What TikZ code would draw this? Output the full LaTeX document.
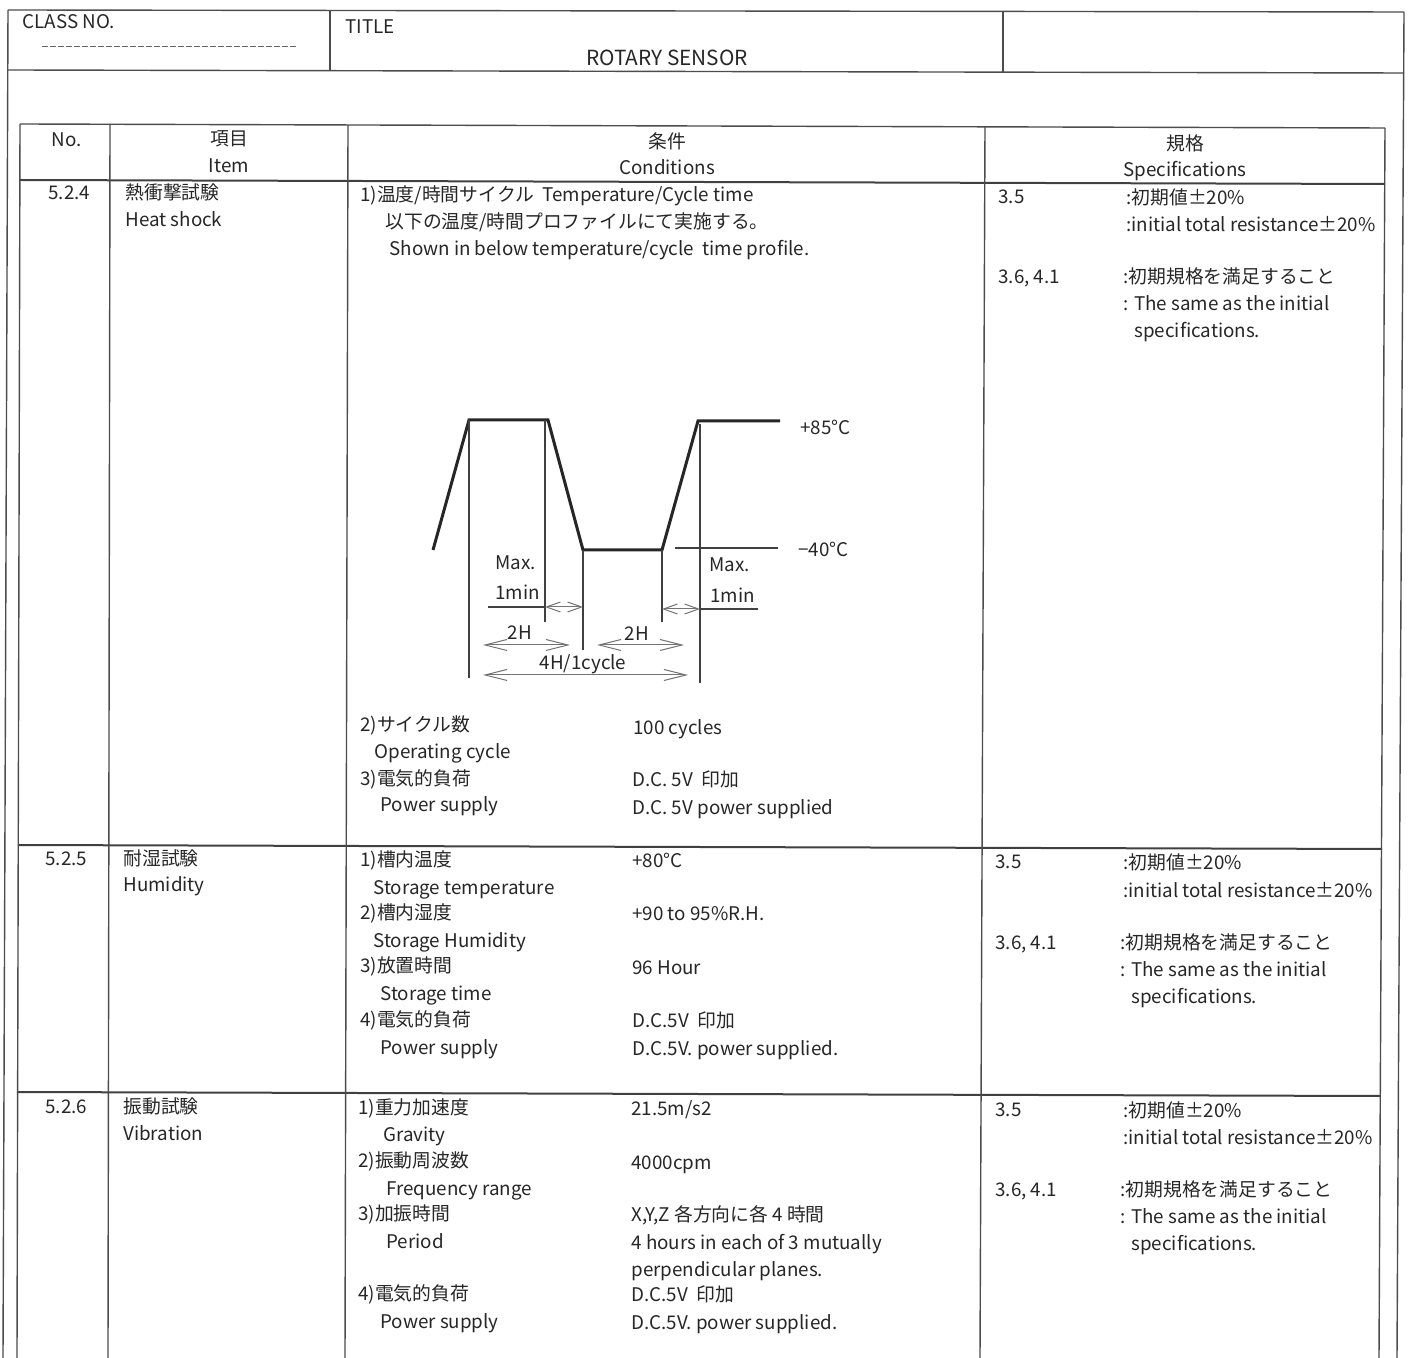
\documentclass[tikz,border=0pt]{standalone}
\usepackage{fontspec}
\setmainfont{Noto Sans CJK JP}
\usetikzlibrary{arrows.meta}

\tikzset{
  txt/.style={anchor=west, inner sep=0pt, text height=8.5pt, text depth=0.5pt, font=\fontsize{9.4}{11}\selectfont, text=black!85},
  mid/.style={txt, anchor=center},
  rule/.style={line width=0.7pt, draw=black!70},
  hrule/.style={line width=1pt, draw=black!75},
  profile/.style={line width=1.5pt, draw=black!85},
  guide/.style={line width=0.6pt, draw=black!75},
  dim/.style={line width=0.5pt, draw=black!55, {Straight Barb[length=11pt,width=5.5pt]}-{Straight Barb[length=11pt,width=5.5pt]}},
  shortdim/.style={dim, {Straight Barb[length=7pt,width=5pt]}-{Straight Barb[length=7pt,width=5pt]}}
}

\begin{document}
\begin{tikzpicture}[x=0.5pt,y=-0.5pt]
\useasboundingbox (0,0) rectangle (1410,1358);

% header frame
\draw[rule] (8,10) -- (1404,12);
\draw[rule] (8,70) -- (1404,73);
\draw[rule] (8,10) -- (3,1358);
\draw[rule] (1404,12) -- (1397,1358);
\draw[rule] (330,10) -- (330,71);
\draw[rule] (1003,11) -- (1003,72);
\draw[line width=0.4pt, draw=black!60, dash pattern=on 3pt off 1pt] (42,46) -- (296,46);
\node[txt] (classno) at (22,21) {CLASS NO.};
\node[txt] (title) at (345,26) {TITLE};
\node[mid, font=\fontsize{10.4}{12}\selectfont] (sensor) at (667,58) {ROTARY SENSOR};

% table grid
\draw[rule] (20,124) -- (1385,128);
\draw[hrule] (20,180) -- (1385,184);
\draw[hrule] (18,845) -- (1382,849);
\draw[hrule] (17,1092) -- (1380,1096);
\draw[rule] (20,124) -- (17,1358);
\draw[rule] (110,124) -- (108,1358);
\draw[rule] (348,125) -- (345,1358);
\draw[rule] (985,127) -- (980,1358);
\draw[rule] (1385,128) -- (1379,1358);

% column heads
\node[mid] (hno) at (67,139) {No.};
\node[mid] (hitemjp) at (229,138) {項目};
\node[mid] (hitem) at (229,165) {Item};
\node[mid] (hcondjp) at (667,141) {条件};
\node[mid] (hcond) at (667,167) {Conditions};
\node[mid] (hspecjp) at (1185,143) {規格};
\node[mid] (hspec) at (1185,169) {Specifications};

% 5.2.4 heat shock
\node[txt] (noa) at (48,192) {5.2.4};
\node[txt] (itemajp) at (125,192) {熱衝撃試験};
\node[txt] (itema) at (125,219) {Heat shock};
\node[txt] (conda) at (360,194) {1)温度/時間サイクル\ \ Temperature/Cycle time};
\node[txt] (condb) at (385,221) {以下の温度/時間プロファイルにて実施する。};
\node[txt] (condc) at (389,248) {Shown in below temperature/cycle\ \ time profile.};

% temperature profile
\draw[profile] (433,550) -- (469,420) -- (548,420) -- (583,550) -- (662,550) -- (698,421) -- (780,421);
\draw[guide] (675,548) -- (778,548);
\node[txt] (hot) at (800,427) {+85°C};
\node[txt] (cold) at (798,549) {−40°C};
\draw[guide] (469,420) -- (469,678);
\draw[guide] (545,420) -- (545,622);
\draw[guide] (583,550) -- (583,650);
\draw[guide] (662,550) -- (662,622);
\draw[guide] (700,424) -- (700,683);
\node[txt] (maxa) at (495,562) {Max.};
\node[txt] (mina) at (495,592) {1min};
\draw[guide] (488,607) -- (545,607);
\draw[shortdim] (545,607) -- (583,607);
\node[txt] (maxb) at (709,564) {Max.};
\node[txt] (minb) at (710,595) {1min};
\draw[guide] (700,609) -- (758,609);
\draw[shortdim] (662,609) -- (700,609);
\node[mid] (twoha) at (520,632) {2H};
\draw[dim] (483,645) -- (570,645);
\node[mid] (twohb) at (637,633) {2H};
\draw[dim] (597,645) -- (684,645);
\node[mid] (cycle) at (583,662) {4H/1cycle};
\draw[dim] (483,675) -- (688,675);

\node[txt] (condd) at (360,724) {2)サイクル数};
\node[txt] (conde) at (374,751) {Operating cycle};
\node[txt] (condf) at (360,777) {3)電気的負荷};
\node[txt] (condg) at (380,804) {Power supply};
\node[txt] (vala) at (633,726) {100 cycles};
\node[txt] (valb) at (632,778) {D.C. 5V\ \ 印加};
\node[txt] (valc) at (632,806) {D.C. 5V power supplied};

% 5.2.5 humidity
\node[txt] (nob) at (45,857) {5.2.5};
\node[txt] (itembjp) at (123,857) {耐湿試験};
\node[txt] (itemb) at (123,884) {Humidity};
\node[txt] (condh) at (360,858) {1)槽内温度};
\node[txt] (condi) at (373,886) {Storage temperature};
\node[txt] (condj) at (360,911) {2)槽内湿度};
\node[txt] (condk) at (373,939) {Storage Humidity};
\node[txt] (condl) at (360,964) {3)放置時間};
\node[txt] (condm) at (380,992) {Storage time};
\node[txt] (condn) at (360,1018) {4)電気的負荷};
\node[txt] (condo) at (380,1046) {Power supply};
\node[txt] (vald) at (632,859) {+80°C};
\node[txt] (vale) at (632,913) {+90 to 95\%R.H.};
\node[txt] (valf) at (632,966) {96 Hour};
\node[txt] (valg) at (632,1019) {D.C.5V\ \ 印加};
\node[txt] (valh) at (632,1047) {D.C.5V. power supplied.};

% 5.2.6 vibration
\node[txt] (noc) at (45,1105) {5.2.6};
\node[txt] (itemcjp) at (123,1105) {振動試験};
\node[txt] (itemc) at (123,1132) {Vibration};
\node[txt] (condp) at (358,1106) {1)重力加速度};
\node[txt] (condq) at (383,1133) {Gravity};
\node[txt] (condr) at (358,1159) {2)振動周波数};
\node[txt] (conds) at (386,1187) {Frequency range};
\node[txt] (condt) at (358,1212) {3)加振時間};
\node[txt] (condu) at (386,1240) {Period};
\node[txt] (condv) at (358,1292) {4)電気的負荷};
\node[txt] (condw) at (380,1320) {Power supply};
\node[txt] (vali) at (631,1107) {21.5m/s2};
\node[txt] (valj) at (631,1161) {4000cpm};
\node[txt] (valk) at (631,1213) {X,Y,Z 各方向に各 4 時間};
\node[txt] (vall) at (631,1241) {4 hours in each of 3 mutually};
\node[txt] (valm) at (631,1268) {perpendicular planes.};
\node[txt] (valn) at (631,1293) {D.C.5V\ \ 印加};
\node[txt] (valo) at (631,1321) {D.C.5V. power supplied.};

% specifications, same for all three rows
\foreach \r/\y/\dx in {a/0/0, b/665/-3, c/912/-3} {
  \node[txt] (spec\r a) at (998+\dx,196+\y) {3.5};
  \node[txt] (spec\r b) at (1126+\dx,197+\y) {:初期値±20\%};
  \node[txt] (spec\r c) at (1126+\dx,224+\y) {:initial total resistance±20\%};
  \node[txt] (spec\r d) at (998+\dx,276+\y) {3.6, 4.1};
  \node[txt] (spec\r e) at (1123+\dx,276+\y) {:初期規格を満足すること};
  \node[txt] (spec\r f) at (1123+\dx,303+\y) {: The same as the initial};
  \node[txt] (spec\r g) at (1134+\dx,330+\y) {specifications.};
}
\end{tikzpicture}
\end{document}
